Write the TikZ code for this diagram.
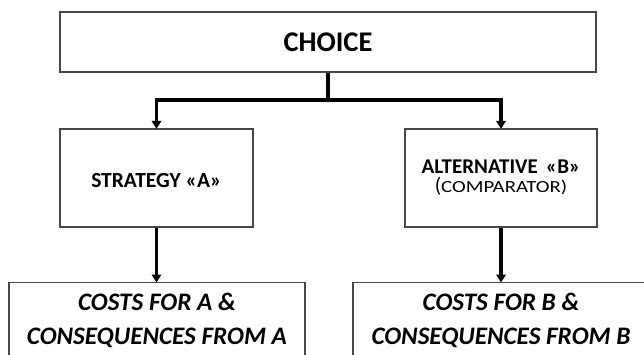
\documentclass[tikz,border=0pt]{standalone}
\usepackage{fontspec}
\setmainfont{Carlito}
\usetikzlibrary{arrows.meta}

\tikzset{
  box/.style={draw=black!72, line width=1.3pt, fill=white, inner sep=0pt,
    align=center, text=black},
  flow/.style={draw=black, line width=3.6pt,
    -{Triangle[width=9.5pt,length=8pt]}, shorten >=-0.5pt},
  headfont/.style={font=\fontsize{28.5}{30}\selectfont\bfseries},
  midfont/.style={font=\fontsize{21}{19}\selectfont\bfseries},
  endfont/.style={font=\fontsize{25.2}{34}\selectfont\bfseries\itshape},
}

\begin{document}
\begin{tikzpicture}[x=1pt, y=-1pt]
  \useasboundingbox (0,0) rectangle (644,355);
  \clip (0,0) rectangle (644,355);

  % decision at the top
  \node[box, headfont, minimum width=536pt, minimum height=60pt]
    (choice) at (328,42) {CHOICE};

  % the two options
  \node[box, midfont, minimum width=193pt, minimum height=98pt,
        text height=20pt, text depth=0pt]
    (strat) at (156.5,178) {\fontsize{21.5}{19}\selectfont STRATEGY «A»};
  \node[box, midfont, minimum width=192pt, minimum height=98pt]
    (alt) at (501,178)
    {ALTERNATIVE \,«B»\\[0pt]
     {\mdseries (\fontsize{17}{19}\selectfont\addfontfeatures{FakeStretch=1.22}COMPARATOR)}};

  % outcomes of each option (lower edges run past the frame)
  \node[box, endfont, anchor=north, minimum width=296pt,
        inner ysep=10.5pt, text depth=30pt]
    (costA) at (157,282) {COSTS FOR A \&\\CONSEQUENCES FROM A};
  \node[box, endfont, anchor=north, minimum width=296pt,
        inner ysep=10.5pt, text depth=30pt]
    (costB) at (501,282) {COSTS FOR B \&\\CONSEQUENCES FROM B};

  % branching connectors
  \draw[flow] (choice.south) -- ++(0,27.5) -| (strat.north);
  \draw[flow] (choice.south) -- ++(0,27.5) -| (alt.north);
  \draw[flow] (strat.south) -- (strat.south |- costA.north);
  \draw[flow] (alt.south) -- (alt.south |- costB.north);
\end{tikzpicture}
\end{document}
